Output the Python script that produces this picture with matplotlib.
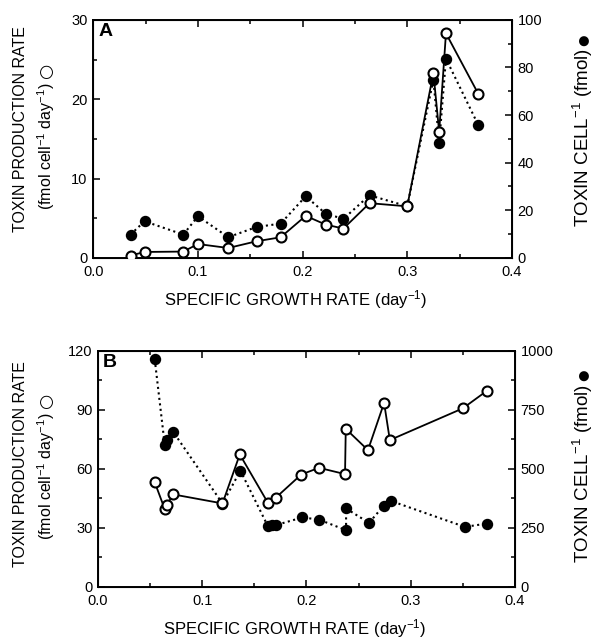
import matplotlib
matplotlib.use("Agg")
import matplotlib.pyplot as plt
from matplotlib.ticker import MultipleLocator

plt.rcParams['font.family'] = ['Liberation Sans', 'DejaVu Sans']
plt.rcParams['mathtext.fontset'] = 'custom'
plt.rcParams['mathtext.rm'] = 'Liberation Sans'
plt.rcParams['mathtext.it'] = 'Liberation Sans'

# Panel A: growth rate (day^-1), production rate (open), toxin per cell (filled)
a_rate_mu = [0.0356, 0.049, 0.086, 0.100, 0.129, 0.156, 0.179, 0.203, 0.222,
             0.239, 0.264, 0.300, 0.325, 0.3305, 0.337, 0.368]
a_rate = [0.3, 0.75, 0.8, 1.75, 1.25, 2.1, 2.6, 5.3, 4.2,
          3.7, 6.9, 6.5, 23.3, 15.9, 28.3, 20.65]
a_cell_mu = [0.0356, 0.049, 0.086, 0.100, 0.129, 0.156, 0.179, 0.203, 0.222,
             0.239, 0.264, 0.300, 0.325, 0.3305, 0.337, 0.368]
a_cell = [9.8, 15.4, 9.8, 17.5, 8.7, 13.0, 14.4, 25.9, 18.6,
          16.4, 26.3, 21.7, 74.9, 48.3, 83.7, 55.7]

# Panel B
b_rate_mu = [0.0544, 0.064, 0.066, 0.072, 0.1194, 0.136, 0.163, 0.1705, 0.195,
             0.212, 0.237, 0.2377, 0.259, 0.2745, 0.280, 0.350, 0.3728]
b_rate = [53.1, 39.5, 41.5, 47.0, 42.4, 67.3, 42.7, 45.3, 57.1,
          60.5, 57.3, 80.3, 69.5, 93.5, 74.6, 90.7, 99.5]
b_cell_mu = [0.0544, 0.064, 0.066, 0.072, 0.1194, 0.1366, 0.163, 0.167, 0.171,
             0.196, 0.212, 0.238, 0.238, 0.260, 0.274, 0.281, 0.352, 0.373]
b_cell = [963, 600, 621, 657, 353, 492, 257, 260, 262,
          294, 285, 240, 332, 271, 343, 364, 254, 268]

fig = plt.figure(figsize=(5.98, 6.4), dpi=100)

LW = 1.4
MS = 7.2


def style_axes(ax, twin):
    for sp in ax.spines.values():
        sp.set_linewidth(LW)
    for a in (ax, twin):
        a.tick_params(direction='in', which='both', width=1.1, labelsize=10.5)
        a.tick_params(which='major', length=5)
        a.tick_params(which='minor', length=3)
    ax.tick_params(axis='x', top=True, which='both', pad=5)
    ax.tick_params(axis='y', pad=4)
    twin.tick_params(axis='y', pad=4)


def panel(rect, mu_o, rate, mu_f, cell, ylim_l, ylim_r, lmaj, lmin, rmaj, rmin,
          letter, x_pos, l1_pos, l2_x, r_pos):
    ax = fig.add_axes(rect)
    tw = ax.twinx()
    ax.plot(mu_o, rate, '-', color='black', lw=1.3, marker='o', ms=MS,
            mfc='white', mec='black', mew=1.5, zorder=3)
    tw.plot(mu_f, cell, ':', color='black', lw=1.5, marker='o', ms=MS,
            mfc='black', mec='black', zorder=3)
    ax.set_xlim(0.0, 0.4)
    ax.set_ylim(*ylim_l)
    tw.set_ylim(*ylim_r)
    ax.xaxis.set_major_locator(MultipleLocator(0.1))
    ax.xaxis.set_minor_locator(MultipleLocator(0.05))
    ax.yaxis.set_major_locator(MultipleLocator(lmaj))
    ax.yaxis.set_minor_locator(MultipleLocator(lmin))
    tw.yaxis.set_major_locator(MultipleLocator(rmaj))
    tw.yaxis.set_minor_locator(MultipleLocator(rmin))
    ax.set_xticklabels([f"{v:.1f}" for v in ax.get_xticks()])
    style_axes(ax, tw)
    ax.text(0.012, 0.985, letter, transform=ax.transAxes, fontsize=14,
            fontweight='bold', va='top', ha='left')
    ax.set_xlabel(r"SPECIFIC GROWTH RATE (day$^{-1}$)", fontsize=12)
    ax.xaxis.set_label_coords(*x_pos)

    # left axis title: two lines, the second followed by the open-circle key
    ax.set_ylabel("TOXIN PRODUCTION RATE", fontsize=11.5)
    ax.yaxis.set_label_coords(*l1_pos)
    ax.yaxis.label.set_va('center')
    line2 = ax.text(l2_x, 0.47, "(fmol cell$^{-1}$ day$^{-1}$)",
                    transform=ax.transAxes, rotation=90, fontsize=11.5,
                    ha='center', va='center')
    ax.annotate("\u25CB", xy=(0.5, 1.0), xycoords=line2,
                xytext=(0, 3), textcoords='offset points', rotation=90,
                ha='center', va='bottom', fontsize=12.5,
                family=['DejaVu Sans'])

    # right axis title followed by the filled-circle key
    tw.set_ylabel("TOXIN CELL$^{-1}$ (fmol)", fontsize=13.5)
    tw.yaxis.set_label_coords(*r_pos)
    tw.yaxis.label.set_va('center')
    tw.annotate("\u25CF", xy=(0.5, 1.0), xycoords=tw.yaxis.label,
                xytext=(0, 2), textcoords='offset points', rotation=90,
                ha='center', va='bottom', fontsize=9.5,
                family=['DejaVu Sans'])
    ax.set_zorder(tw.get_zorder() + 1)
    ax.patch.set_visible(False)
    return ax, tw


panel([0.156, 0.597, 0.700, 0.372], a_rate_mu, a_rate, a_cell_mu, a_cell,
      (0, 30), (0, 100), 10, 5, 20, 10, 'A',
      (0.483, -0.125), (-0.174, 0.54), -0.112, (1.170, 0.504))
panel([0.164, 0.083, 0.697, 0.369], b_rate_mu, b_rate, b_cell_mu, b_cell,
      (0, 120), (0, 1000), 30, 15, 250, 125, 'B',
      (0.471, -0.13), (-0.187, 0.52), -0.125, (1.163, 0.48))

fig.savefig("out.png", dpi=100)
